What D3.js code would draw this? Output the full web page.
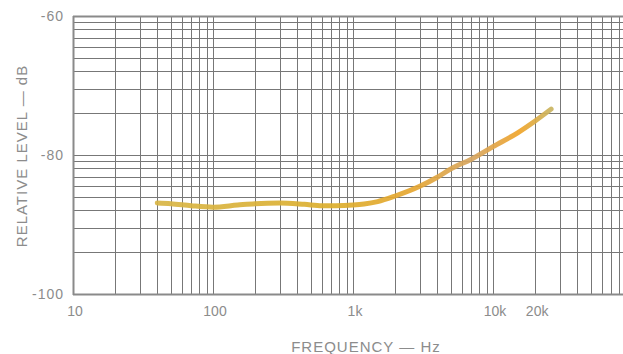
<!DOCTYPE html>
<html>
<head>
<meta charset="utf-8">
<script src="https://cdn.jsdelivr.net/npm/d3@7"></script>
<style>
  html, body { margin: 0; padding: 0; background: #fff; }
  svg { display: block; }
  text { font-family: "Liberation Sans", "DejaVu Sans", sans-serif; fill: #8c8c8c; }
</style>
</head>
<body>
<svg id="chart" width="623" height="354"></svg>
<script>
// ---- data ----
const freqs = [40, 50, 70, 100, 150, 200, 300, 450, 600, 750, 1000, 1200, 1500, 2000, 3000, 4000, 5000, 7000, 10000, 15000, 20000, 26000];
const levels = [-86.9, -87.0, -87.3, -87.5, -87.2, -87.0, -86.9, -87.1, -87.3, -87.3, -87.2, -87.05, -86.7, -85.9, -84.5, -83.2, -82.0, -80.6, -78.8, -76.8, -75.1, -73.4];
const xTickValues = [10, 100, 1000, 10000, 20000];
const xTickLabels = ["10", "100", "1k", "10k", "20k"];
const yTickValues = [-60, -80, -100];
const yTickLabels = ["-60", "-80", "-100"];
const xTitle = "FREQUENCY — Hz";
const yTitle = "RELATIVE LEVEL — dB";

// ---- layout ----
const svg = d3.select("#chart");
const pLeft = 73, pTop = 16, pBottom = 294, decade = 140;
const x = d3.scaleLog().domain([10, 100000]).range([pLeft, pLeft + 4 * decade]);
const y = d3.scaleLinear().domain([-100, -60]).range([pBottom, pTop]);
// log-paper horizontal ruling (2 cycles)
const yGrid = d3.scaleLog().domain([1, 100]).range([pBottom, pTop]);

const gridColor = "#777777";
const g = svg.append("g");

// vertical grid lines (log paper, 4 cycles)
const vLines = [];
for (let d = 10; d < 100000; d *= 10) for (let k = 1; k <= 9; k++) vLines.push(d * k);
vLines.push(100000);
g.selectAll("line.v").data(vLines).enter().append("line")
  .attr("x1", d => Math.round(x(d)) + 0.5).attr("x2", d => Math.round(x(d)) + 0.5)
  .attr("y1", pTop).attr("y2", pBottom)
  .attr("stroke", gridColor).attr("stroke-width", 1);

// horizontal grid lines
const hLines = [];
for (let d = 1; d < 100; d *= 10) for (let k = 1; k <= 9; k++) hLines.push(d * k);
hLines.push(100);
g.selectAll("line.h").data(hLines).enter().append("line")
  .attr("x1", pLeft).attr("x2", 640)
  .attr("y1", d => Math.round(yGrid(d)) + 0.5).attr("y2", d => Math.round(yGrid(d)) + 0.5)
  .attr("stroke", gridColor).attr("stroke-width", 1);

// border emphasis
g.append("line").attr("x1", pLeft + 0.5).attr("x2", pLeft + 0.5).attr("y1", pTop).attr("y2", pBottom + 1)
  .attr("stroke", "#8a8a8a").attr("stroke-width", 2);
g.append("line").attr("x1", pLeft).attr("x2", 640).attr("y1", pBottom + 0.5).attr("y2", pBottom + 0.5)
  .attr("stroke", "#8a8a8a").attr("stroke-width", 2);
g.append("line").attr("x1", pLeft).attr("x2", 640).attr("y1", pTop + 0.5).attr("y2", pTop + 0.5)
  .attr("stroke", "#8a8a8a").attr("stroke-width", 2);

// ---- curve ----
const defs = svg.append("defs");
const grad = defs.append("linearGradient").attr("id", "cg")
  .attr("gradientUnits", "userSpaceOnUse")
  .attr("x1", x(40)).attr("x2", x(26000)).attr("y1", 0).attr("y2", 0);
grad.append("stop").attr("offset", "0%").attr("stop-color", "#d8b545");
grad.append("stop").attr("offset", "45%").attr("stop-color", "#dcae2c");
grad.append("stop").attr("offset", "65%").attr("stop-color", "#e6a630");
grad.append("stop").attr("offset", "80%").attr("stop-color", "#d6a560");
grad.append("stop").attr("offset", "92%").attr("stop-color", "#f0a428");
grad.append("stop").attr("offset", "100%").attr("stop-color", "#c9b460");

const pts = freqs.map((f, i) => [f, levels[i]]);
const line = d3.line().x(d => x(d[0])).y(d => y(d[1])).curve(d3.curveMonotoneX);
svg.append("path").datum(pts).attr("d", line)
  .attr("fill", "none").attr("stroke", "url(#cg)").attr("stroke-width", 5)
  .attr("stroke-linecap", "round").attr("stroke-linejoin", "round").attr("opacity", 0.92);

// ---- axis labels ----
svg.append("g").selectAll("text").data(xTickValues).enter().append("text")
  .attr("x", d => x(d) + 2).attr("y", 316)
  .attr("text-anchor", "middle").attr("font-size", 14)
  .text((d, i) => xTickLabels[i]);

svg.append("g").selectAll("text").data(yTickValues).enter().append("text")
  .attr("x", 64).attr("y", d => y(d) + 5)
  .attr("text-anchor", "end").attr("font-size", 14).attr("letter-spacing", 1)
  .text((d, i) => yTickLabels[i]);

svg.append("text").attr("x", 366).attr("y", 352).attr("text-anchor", "middle")
  .attr("font-size", 15).attr("letter-spacing", 1).text(xTitle);

svg.append("text").attr("transform", "translate(27,156) rotate(-90)")
  .attr("text-anchor", "middle").attr("font-size", 15).attr("letter-spacing", 1).text(yTitle);
</script>
</body>
</html>
